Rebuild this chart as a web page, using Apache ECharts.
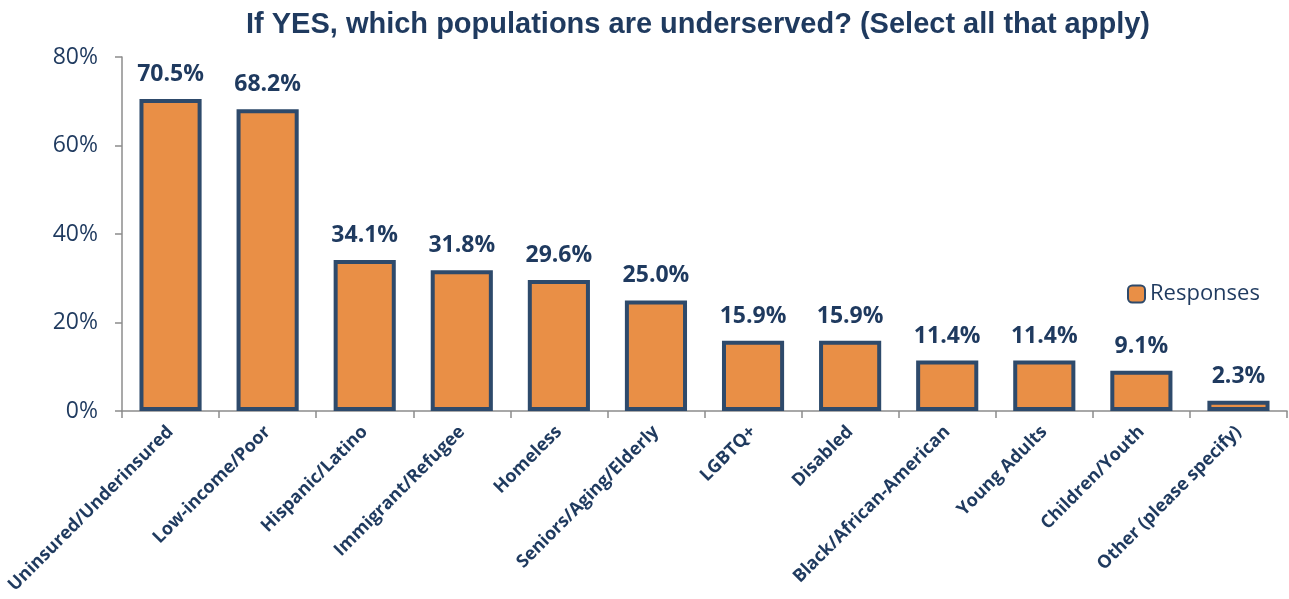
<!DOCTYPE html>
<html>
<head>
<meta charset="utf-8">
<script src="https://cdn.jsdelivr.net/npm/echarts@6/dist/echarts.min.js"></script>
<style>
  html, body { margin: 0; padding: 0; background: #fff; }
  #chart { width: 1289px; height: 599px; }
</style>
</head>
<body>
<div id="chart"></div>
<script>
const categories = [
  'Uninsured/Underinsured', 'Low-income/Poor', 'Hispanic/Latino', 'Immigrant/Refugee',
  'Homeless', 'Seniors/Aging/Elderly', 'LGBTQ+', 'Disabled',
  'Black/African-American', 'Young Adults', 'Children/Youth', 'Other (please specify)'
];
const responses = [70.5, 68.2, 34.1, 31.8, 29.6, 25.0, 15.9, 15.9, 11.4, 11.4, 9.1, 2.3];
const yTicks = [0, 20, 40, 60, 80];

const navy = '#1F3A5F';
const chart = echarts.init(document.getElementById('chart'));
chart.setOption({
  animation: false,
  title: {
    text: 'If YES, which populations are underserved? (Select all that apply)',
    left: 693, top: 5, textAlign: 'center',
    textStyle: { fontFamily: 'Liberation Sans', fontWeight: 'bold', fontSize: 29, color: navy }
  },
  legend: {
    data: ['Responses'],
    left: 1122, top: 278,
    itemWidth: 17, itemHeight: 17,
    textStyle: { fontFamily: 'Open Sans', fontSize: 22, color: navy },
    itemGap: 4
  },
  grid: { left: 122, right: 2, top: 57, bottom: 188 },
  xAxis: {
    type: 'category',
    data: categories,
    axisLine: { lineStyle: { color: '#8C8C8C', width: 1.5 } },
    axisTick: { show: true, alignWithLabel: false, length: 7, lineStyle: { color: '#8C8C8C', width: 1.5 } },
    axisLabel: {
      interval: 0, rotate: 45, margin: 18,
      fontFamily: 'Open Sans', fontWeight: 'bold', fontSize: 18, color: navy
    }
  },
  yAxis: {
    type: 'value', min: 0, max: 80, interval: 20,
    axisLine: { show: true, lineStyle: { color: '#8C8C8C', width: 1.5 } },
    axisTick: { show: true, length: 7, lineStyle: { color: '#8C8C8C', width: 1.5 } },
    splitLine: { show: false },
    axisLabel: {
      margin: 24,
      fontFamily: 'Open Sans', fontSize: 23, color: navy,
      formatter: v => yTicks.includes(v) ? v + '%' : ''
    }
  },
  series: [{
    name: 'Responses',
    type: 'bar',
    data: responses,
    barWidth: '64%',
    itemStyle: { color: '#E98F46', borderColor: '#2E4A6B', borderWidth: 4 },
    label: {
      show: true, position: 'top', distance: 13,
      fontFamily: 'Open Sans', fontWeight: 'bold', fontSize: 23, color: navy,
      formatter: p => p.value.toFixed(1) + '%'
    }
  }]
});
</script>
</body>
</html>
